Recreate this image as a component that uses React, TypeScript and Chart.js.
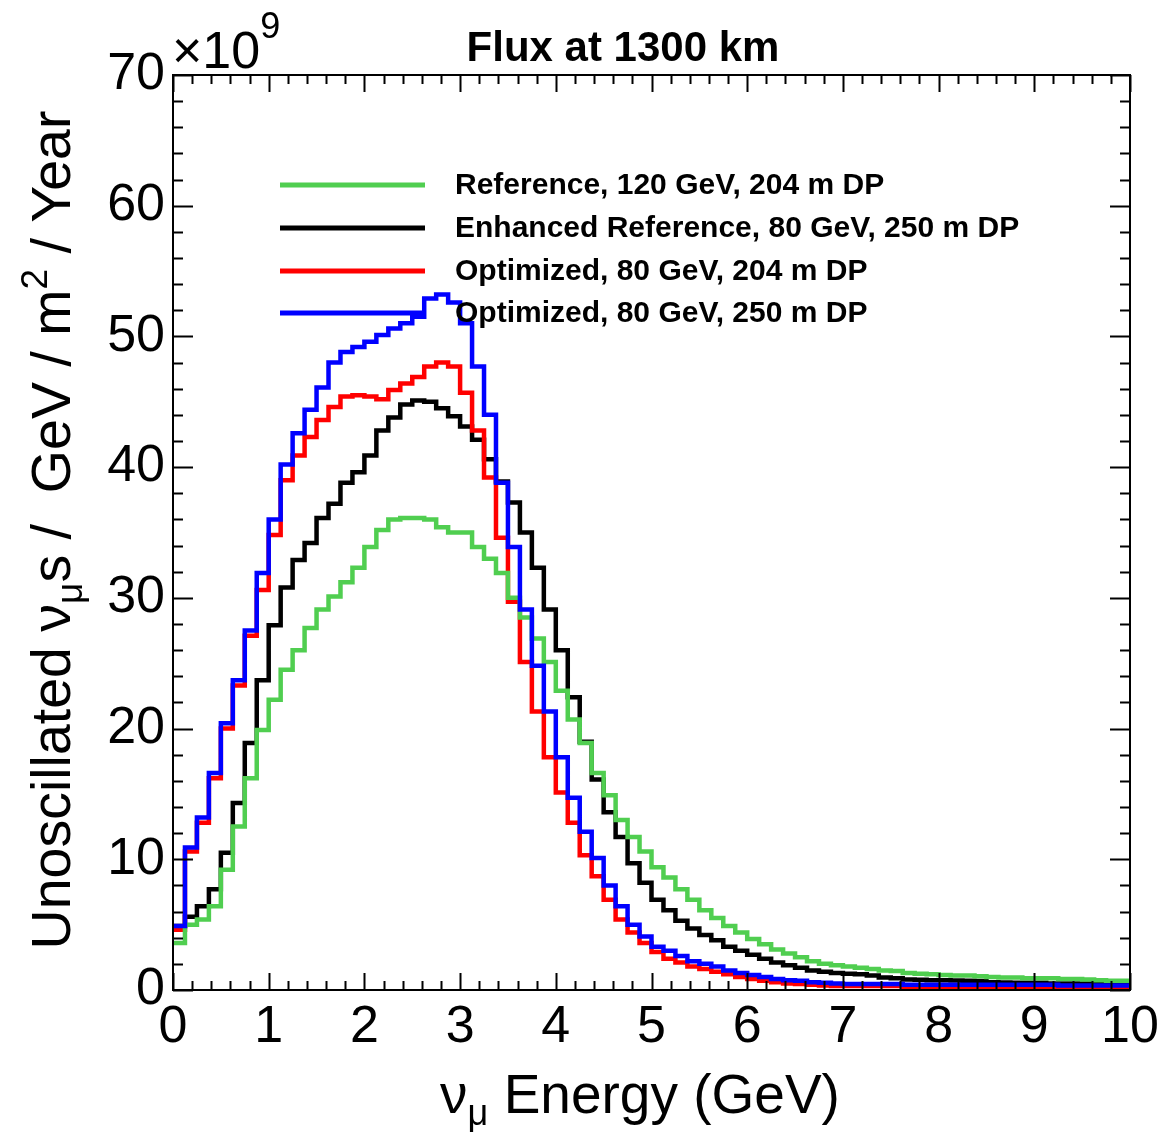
import React, { useEffect, useRef } from 'react';
import { Chart, registerables } from 'chart.js';

Chart.register(...registerables);

// ---- data (values in units of 10^9) ----
const BIN_WIDTH = 0.125; // GeV
const X_MIN = 0;
const X_MAX = 10;
const Y_MIN = 0;
const Y_MAX = 70;
const X_TICK_LABELS = [0, 1, 2, 3, 4, 5, 6, 7, 8, 9, 10];
const Y_TICK_LABELS = [0, 10, 20, 30, 40, 50, 60, 70];
const X_MINOR_STEP = 0.2;
const Y_MINOR_STEP = 2;

const SERIES_LABELS = [
  'Reference, 120 GeV, 204 m DP',
  'Enhanced Reference, 80 GeV, 250 m DP',
  'Optimized, 80 GeV, 204 m DP',
  'Optimized, 80 GeV, 250 m DP',
];

const reference120 = [
  3.6, 5.0, 5.4, 6.4, 9.2, 12.5, 16.2, 19.9, 22.2, 24.5,
  26.0, 27.7, 29.1, 30.1, 31.2, 32.3, 33.9, 35.2, 36.0, 36.1,
  36.1, 36.0, 35.4, 35.0, 35.0, 33.9, 33.0, 31.9, 30.0, 28.5,
  26.9, 25.1, 22.9, 20.7, 18.9, 16.6, 14.9, 13.0, 11.7, 10.6,
  9.4, 8.6, 7.7, 6.9, 6.1, 5.5, 4.9, 4.4, 3.9, 3.5,
  3.1, 2.8, 2.5, 2.2, 2.0, 1.9, 1.8, 1.7, 1.6, 1.5,
  1.45, 1.3, 1.25, 1.2, 1.15, 1.1, 1.1, 1.05, 1.0, 0.95,
  0.95, 0.9, 0.9, 0.9, 0.85, 0.85, 0.8, 0.75, 0.7, 0.7,
];

const enhanced80 = [
  4.9, 5.6, 6.4, 7.7, 10.5, 14.3, 18.9, 23.7, 27.9, 30.8,
  32.9, 34.2, 36.1, 37.2, 38.8, 39.6, 40.9, 42.8, 43.8, 44.8,
  45.1, 45.0, 44.5, 43.9, 43.1, 42.1, 40.6, 38.9, 37.3, 35.0,
  32.3, 29.1, 26.0, 22.4, 19.0, 16.1, 13.6, 11.7, 9.7, 8.2,
  6.9, 6.1, 5.3, 4.7, 4.2, 3.8, 3.3, 3.0, 2.7, 2.4,
  2.1, 1.9, 1.7, 1.5, 1.4, 1.3, 1.25, 1.2, 1.1, 0.95,
  0.9, 0.8, 0.78, 0.75, 0.75, 0.72, 0.7, 0.68, 0.6, 0.58,
  0.55, 0.55, 0.55, 0.5, 0.5, 0.5, 0.5, 0.5, 0.5, 0.5,
];

const optimized204 = [
  4.6, 10.6, 12.8, 16.2, 20.0, 23.3, 27.1, 30.6, 34.8, 39.0,
  40.9, 42.3, 43.6, 44.6, 45.4, 45.5, 45.4, 45.2, 45.9, 46.4,
  46.9, 47.7, 48.0, 47.7, 45.7, 42.8, 39.2, 34.6, 29.7, 25.1,
  21.3, 17.8, 15.1, 12.8, 10.3, 8.7, 6.9, 5.4, 4.4, 3.6,
  2.9, 2.4, 2.1, 1.8, 1.6, 1.4, 1.2, 1.0, 0.85, 0.7,
  0.6, 0.5, 0.45, 0.4, 0.35, 0.3, 0.3, 0.3, 0.3, 0.3,
  0.3, 0.25, 0.25, 0.25, 0.25, 0.25, 0.25, 0.25, 0.25, 0.25,
  0.25, 0.25, 0.25, 0.25, 0.25, 0.25, 0.25, 0.25, 0.25, 0.25,
];

const optimized250 = [
  4.9, 10.9, 13.2, 16.6, 20.4, 23.7, 27.5, 31.9, 36.0, 40.2,
  42.6, 44.4, 46.1, 48.0, 48.8, 49.2, 49.6, 50.1, 50.6, 51.0,
  51.5, 52.9, 53.2, 52.6, 51.0, 47.7, 44.0, 38.8, 33.9, 29.1,
  24.8, 21.3, 17.8, 14.7, 12.1, 10.1, 8.0, 6.4, 5.0, 4.1,
  3.3, 3.0, 2.6, 2.2, 2.0, 1.8, 1.5, 1.3, 1.15, 1.0,
  0.85, 0.75, 0.7, 0.6, 0.55, 0.5, 0.45, 0.45, 0.45, 0.45,
  0.45, 0.4, 0.4, 0.4, 0.4, 0.4, 0.4, 0.4, 0.4, 0.4,
  0.4, 0.4, 0.4, 0.4, 0.35, 0.35, 0.35, 0.35, 0.35, 0.35,
];

const COLORS = ['rgb(80, 206, 80)', '#000000', '#ff0000', '#0000ff'];

const FONT = '"Liberation Sans", Arial, Helvetica, sans-serif';

function toSteps(values: number[]) {
  const pts = values.map((v, i) => ({ x: i * BIN_WIDTH, y: v }));
  pts.push({ x: values.length * BIN_WIDTH, y: values[values.length - 1] });
  return pts;
}

type Seg = { t: string; size: number; dy: number; weight?: string };

function richWidth(ctx: CanvasRenderingContext2D, segs: Seg[]) {
  let w = 0;
  for (const s of segs) {
    ctx.font = `${s.weight || 'normal'} ${s.size}px ${FONT}`;
    w += ctx.measureText(s.t).width;
  }
  return w;
}

function drawRich(ctx: CanvasRenderingContext2D, segs: Seg[], x: number, baseline: number, align: 'left' | 'center') {
  const total = richWidth(ctx, segs);
  let cx = align === 'center' ? x - total / 2 : x;
  ctx.textAlign = 'left';
  ctx.textBaseline = 'alphabetic';
  for (const s of segs) {
    ctx.font = `${s.weight || 'normal'} ${s.size}px ${FONT}`;
    ctx.fillText(s.t, cx, baseline + s.dy);
    cx += ctx.measureText(s.t).width;
  }
}

const overlayPlugin = {
  id: 'rootStyleOverlay',
  afterDraw(chart: any) {
    const { ctx, chartArea: a, scales } = chart;
    const xs = scales.x;
    const ys = scales.y;
    ctx.save();
    ctx.strokeStyle = '#000';
    ctx.fillStyle = '#000';
    ctx.lineWidth = 2;

    // frame
    ctx.strokeRect(a.left, a.top, a.right - a.left, a.bottom - a.top);

    // x ticks (bottom & top, pointing inward)
    const nx = Math.round((X_MAX - X_MIN) / X_MINOR_STEP);
    for (let i = 0; i <= nx; i++) {
      const v = X_MIN + i * X_MINOR_STEP;
      const px = Math.round(xs.getPixelForValue(v)) + 0.5;
      const major = i % 5 === 0;
      const len = major ? 17 : 9;
      ctx.beginPath();
      ctx.moveTo(px, a.bottom);
      ctx.lineTo(px, a.bottom - len);
      ctx.moveTo(px, a.top);
      ctx.lineTo(px, a.top + len);
      ctx.stroke();
    }
    // y ticks (left & right)
    const ny = Math.round((Y_MAX - Y_MIN) / Y_MINOR_STEP);
    for (let i = 0; i <= ny; i++) {
      const v = Y_MIN + i * Y_MINOR_STEP;
      const py = Math.round(ys.getPixelForValue(v)) + 0.5;
      const major = i % 5 === 0;
      const len = major ? 20 : 10;
      ctx.beginPath();
      ctx.moveTo(a.left, py);
      ctx.lineTo(a.left + len, py);
      ctx.moveTo(a.right, py);
      ctx.lineTo(a.right - len, py);
      ctx.stroke();
    }

    // exponent label
    drawRich(ctx, [
      { t: '\u00d710', size: 52, dy: 0 },
      { t: '9', size: 36, dy: -30 },
    ], a.left - 1, 68, 'left');

    // title
    ctx.font = `bold 42px ${FONT}`;
    ctx.textAlign = 'center';
    ctx.textBaseline = 'alphabetic';
    ctx.fillText('Flux at 1300 km', 623, 61);

    // x-axis title
    drawRich(ctx, [
      { t: '\u03bd', size: 55, dy: 0 },
      { t: '\u03bc', size: 36, dy: 12 },
      { t: ' Energy (GeV)', size: 55, dy: 0 },
    ], 640, 1113, 'center');

    // y-axis title
    ctx.save();
    ctx.translate(70, 530);
    ctx.rotate(-Math.PI / 2);
    drawRich(ctx, [
      { t: 'Unoscillated \u03bd', size: 55.5, dy: 0 },
      { t: '\u03bc', size: 37, dy: 12 },
      { t: 's /  GeV / m', size: 55.5, dy: 0 },
      { t: '2', size: 37, dy: -23 },
      { t: ' / Year', size: 55.5, dy: 0 },
    ], 0, 0, 'center');
    ctx.restore();

    // legend
    const legendY = [185, 228, 271, 313];
    ctx.lineWidth = 5;
    ctx.font = `bold 30px ${FONT}`;
    ctx.textAlign = 'left';
    ctx.textBaseline = 'middle';
    SERIES_LABELS.forEach((label, i) => {
      ctx.strokeStyle = COLORS[i];
      ctx.beginPath();
      ctx.moveTo(280, legendY[i]);
      ctx.lineTo(425, legendY[i]);
      ctx.stroke();
      ctx.fillStyle = '#000';
      ctx.fillText(label, 455, legendY[i] + 1);
    });
    ctx.restore();
  },
};

export default function App() {
  const canvasRef = useRef<HTMLCanvasElement | null>(null);

  useEffect(() => {
    const canvas = canvasRef.current;
    if (!canvas) return;
    const seriesValues = [reference120, enhanced80, optimized204, optimized250];
    const drawOrder = [1, 3, 2, 0]; // lower = on top
    const chart = new Chart(canvas, {
      type: 'line',
      data: {
        datasets: seriesValues.map((vals, i) => ({
          label: SERIES_LABELS[i],
          data: toSteps(vals),
          borderColor: COLORS[i],
          backgroundColor: COLORS[i],
          borderWidth: 4.5,
          pointRadius: 0,
          stepped: 'before' as const,
          fill: false,
          order: drawOrder[i],
        })),
      },
      options: {
        responsive: false,
        animation: false,
        devicePixelRatio: 1,
        layout: { padding: { left: 0, right: 32, top: 75, bottom: 0 } },
        plugins: {
          legend: { display: false },
          tooltip: { enabled: false },
          title: { display: false },
        },
        scales: {
          x: {
            type: 'linear',
            min: X_MIN,
            max: X_MAX,
            grid: { display: false, drawTicks: false },
            border: { display: false },
            ticks: {
              stepSize: 1,
              color: '#000',
              padding: 6,
              maxRotation: 0,
              autoSkip: false,
              font: { family: FONT, size: 52 },
              callback: (v: any) => (X_TICK_LABELS.includes(Number(v)) ? String(v) : ''),
            },
            afterFit: (s: any) => {
              s.height = 143;
              s.paddingLeft = 0;
              s.paddingRight = 0;
            },
          },
          y: {
            type: 'linear',
            min: Y_MIN,
            max: Y_MAX,
            grid: { display: false, drawTicks: false },
            border: { display: false },
            ticks: {
              stepSize: 10,
              color: '#000',
              padding: 8,
              autoSkip: false,
              font: { family: FONT, size: 52 },
              callback: (v: any) => (Y_TICK_LABELS.includes(Number(v)) ? String(v) : ''),
            },
            afterFit: (s: any) => {
              s.width = 173;
              s.paddingTop = 0;
              s.paddingBottom = 0;
            },
          },
        },
      },
      plugins: [overlayPlugin],
    });
    return () => chart.destroy();
  }, []);

  return (
    <div style={{ position: 'absolute', left: 0, top: 0, width: 1162, height: 1133, background: '#fff' }}>
      <canvas ref={canvasRef} width={1162} height={1133} style={{ display: 'block', width: 1162, height: 1133 }} />
    </div>
  );
}
